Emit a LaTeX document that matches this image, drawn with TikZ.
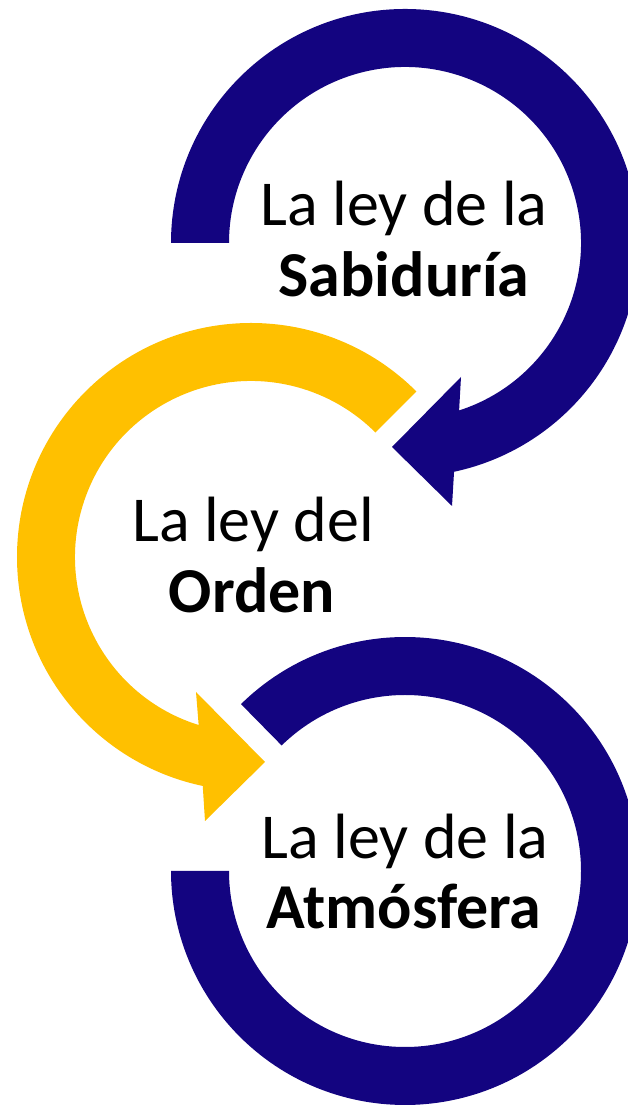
\documentclass[tikz,border=0pt]{standalone}
\usepackage{fontspec}
\setmainfont{Carlito}
\usetikzlibrary{calc}
\definecolor{navy}{RGB}{19,4,128}
\definecolor{gold}{RGB}{255,192,0}
\begin{document}
\begin{tikzpicture}[x=1pt,y=1pt,
  lawtext/.style={anchor=base, inner sep=0pt, font=\fontsize{64}{71}\selectfont},
  lawbold/.style={anchor=base, inner sep=0pt, font=\fontsize{64}{71}\selectfont\bfseries}]
\useasboundingbox (0,0) rectangle (628,1105);
\fill[white] (0,0) rectangle (628,1105);
\clip (0,0) rectangle (628,1105);
\coordinate (c1) at (405,862);
\coordinate (c2) at (251,548);
\coordinate (c3) at (405,234);
% top circular arrow
\fill[navy] ($(c1)+(180:234pt)$) arc[start angle=180, end angle=-77.9, radius=234pt]
  -- (452,599) -- (392,658) -- (461,728)
  -- ($(c1)+(-72.1:176pt)$) arc[start angle=-72.1, end angle=180, radius=176pt] -- cycle;
% middle circular arrow
\fill[gold] ($(c2)+(45:234pt)$) arc[start angle=45, end angle=258.1, radius=234pt]
  -- (205,284) -- (265,343) -- (196,413)
  -- ($(c2)+(252.7:176pt)$) arc[start angle=252.7, end angle=45, radius=176pt] -- cycle;
% bottom circular band
\fill[navy] ($(c3)+(134.5:234pt)$) arc[start angle=134.5, end angle=-180, radius=234pt]
  -- ($(c3)+(180:176pt)$) arc[start angle=-180, end angle=134.5, radius=176pt] -- cycle;
% texts
\node[lawtext] (t1a) at (404,879) {La ley de la};
\node[lawbold] (t1b) at (404,808) {Sabiduría};
\node[lawtext] (t2a) at (253,563) {La ley del};
\node[lawbold] (t2b) at (252,492) {Orden};
\node[lawtext] (t3a) at (405,246) {La ley de la};
\node[lawbold] (t3b) at (404,176) {Atmósfera};
\end{tikzpicture}
\end{document}
